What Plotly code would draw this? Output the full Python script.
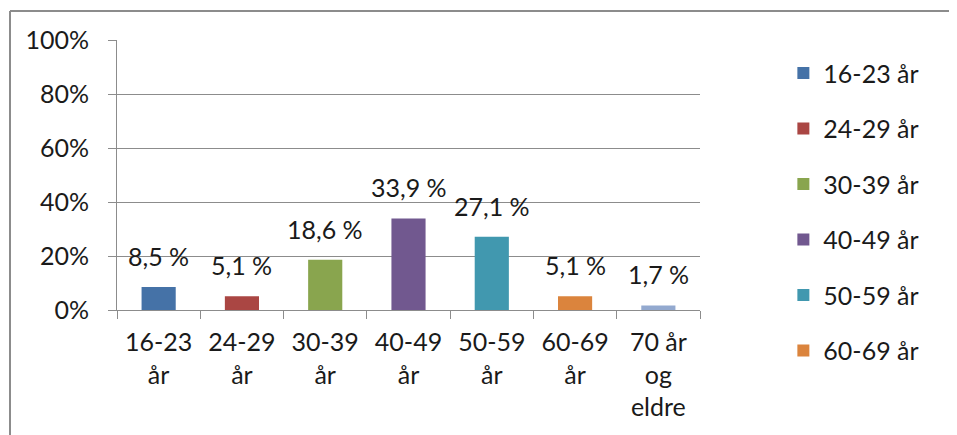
import plotly.graph_objects as go

# data
categories = ["16-23 år", "24-29 år", "30-39 år", "40-49 år", "50-59 år", "60-69 år", "70 år og eldre"]
tick_text = ["16-23<br>år", "24-29<br>år", "30-39<br>år", "40-49<br>år", "50-59<br>år", "60-69<br>år", "70 år<br>og<br>eldre"]
values = [8.5, 5.1, 18.6, 33.9, 27.1, 5.1, 1.7]
labels = ["8,5 %", "5,1 %", "18,6 %", "33,9 %", "27,1 %", "5,1 %", "1,7 %"]
colors = ["#4572A7", "#AA4643", "#89A54E", "#71588F", "#4198AF", "#DB843D", "#93A9CF"]

FONT = "Century Gothic, Lato, sans-serif"
FS = 25
# page has an 8px body margin, so the figure is a bit smaller
W, H = 949, 427
ML, MR, MT, MB = 109, 257, 32, 125

fig = go.Figure()

for i, (cat, v, c) in enumerate(zip(categories, values, colors)):
    fig.add_trace(go.Bar(
        x=[cat], y=[v / 100],
        marker=dict(color=c, line=dict(width=0)),
        name=cat,
        legendgroup=cat,
        showlegend=i < 6,  # last legend item is cut off in the original
        width=0.41,
    ))

# data labels
for cat, v, lab in zip(categories, values, labels):
    fig.add_annotation(
        x=cat, y=v / 100, text=lab, showarrow=False,
        yanchor="bottom", yshift=14,
        font=dict(family=FONT, size=FS, color="#1a1a1a"),
    )

# outer frame (top + left only visible)
pw = W - ML - MR
ph = H - MT - MB
x0 = (2 - ML) / pw
y0 = 1 + (MT - 3) / ph
fig.add_shape(type="line", xref="paper", yref="paper",
              x0=x0, x1=(W + 5 - ML) / pw, y0=y0, y1=y0,
              line=dict(color="#8c8c8c", width=2))
fig.add_shape(type="line", xref="paper", yref="paper",
              x0=x0, x1=x0, y0=y0, y1=-(MB + 10) / ph,
              line=dict(color="#8c8c8c", width=2))

fig.update_layout(
    width=W, height=H,
    margin=dict(l=ML, r=MR, t=MT, b=MB),
    paper_bgcolor="white",
    plot_bgcolor="white",
    font=dict(family=FONT, size=FS, color="#1a1a1a"),
    bargap=0.59,
    legend=dict(
        x=1.143, xanchor="left", y=0.962, yanchor="top",
        font=dict(family=FONT, size=FS, color="#1a1a1a"),
        tracegroupgap=20,
        itemwidth=30,
        maxheight=600,
    ),
)

fig.update_yaxes(
    range=[0, 1], tickvals=[0, 0.2, 0.4, 0.6, 0.8, 1.0],
    ticktext=["0%", "20%", "40%", "60%", "80%", "100%"],
    showgrid=True, gridcolor="#8c8c8c", gridwidth=1,
    showline=True, linecolor="#8c8c8c", linewidth=1,
    ticks="outside", ticklen=8, tickcolor="#8c8c8c",
    ticklabelstandoff=14, zeroline=False,
)
fig.update_xaxes(
    tickvals=categories, ticktext=tick_text,
    showline=True, linecolor="#8c8c8c", linewidth=1,
    ticks="outside", ticklen=8, tickcolor="#8c8c8c",
    tickson="boundaries", tickangle=0,
    ticklabelstandoff=10,
)

fig.write_html("out.html")
